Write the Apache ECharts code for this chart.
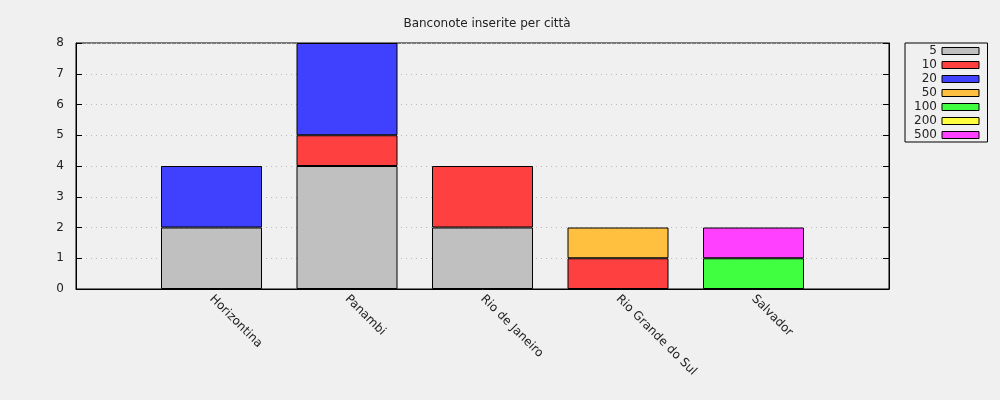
<!DOCTYPE html>
<html>
<head>
<meta charset="utf-8">
<script src="https://cdn.jsdelivr.net/npm/echarts@6/dist/echarts.min.js"></script>
<style>
  html, body { margin: 0; padding: 0; background: #f0f0f0; }
  #chart { width: 1000px; height: 400px; }
</style>
</head>
<body>
<div id="chart"></div>
<script>
// città (slot vuoti ai bordi come nel grafico originale)
const cities = ['', 'Horizontina', 'Panambi', 'Rio de Janeiro', 'Rio Grande do Sul', 'Salvador', ''];
const notes = ['5', '10', '20', '50', '100', '200', '500'];
const noteColors = ['#c0c0c0', '#ff4040', '#4040ff', '#ffc040', '#40ff40', '#ffff40', '#ff40ff'];

// conteggi per taglio, una voce per città
const n5   = [null, 2, 4, 2, null, null, null];
const n10  = [null, null, 1, 2, 1, null, null];
const n20  = [null, 2, 3, null, null, null, null];
const n50  = [null, null, null, null, 1, null, null];
const n100 = [null, null, null, null, null, 1, null];
const n200 = [null, null, null, null, null, null, null];
const n500 = [null, null, null, null, null, 1, null];
const counts = [n5, n10, n20, n50, n100, n200, n500];

const yTicks = { min: 0, max: 8, interval: 1 };

const chart = echarts.init(document.getElementById('chart'));
const font = 'DejaVu Sans';

chart.setOption({
  backgroundColor: '#f0f0f0',
  animation: false,
  textStyle: { fontFamily: font },
  title: {
    text: 'Banconote inserite per città',
    left: 482, top: 13, textAlign: 'center',
    textStyle: { fontSize: 12, fontWeight: 'normal', color: '#222', fontFamily: font }
  },
  legend: {
    orient: 'vertical',
    left: 905, top: 43,
    align: 'right',
    padding: [1, 8, 0, 6],
    itemGap: 0,
    itemWidth: 37, itemHeight: 7,
    borderColor: '#000', borderWidth: 1, borderRadius: 0,
    icon: 'rect',
    itemStyle: { borderColor: '#000', borderWidth: 1 },
    textStyle: { fontSize: 12, color: '#222', width: 26, align: 'right', lineHeight: 14, fontFamily: font },
    data: notes
  },
  grid: {
    left: 76, right: 111, top: 43, bottom: 111,
    show: true, borderColor: '#000', borderWidth: 1,
    containLabel: false
  },
  xAxis: {
    type: 'category',
    data: cities,
    boundaryGap: false,
    axisLine: { show: true, lineStyle: { color: '#000' } },
    axisTick: { show: false },
    splitLine: { show: false },
    axisLabel: { rotate: -45, fontSize: 12, color: '#222', margin: 8, interval: 0 }
  },
  yAxis: [{
    type: 'value',
    min: yTicks.min, max: yTicks.max, interval: yTicks.interval,
    axisLine: { show: true, lineStyle: { color: '#000' } },
    axisTick: { show: true, inside: true, length: 6, lineStyle: { color: '#000' } },
    axisLabel: { fontSize: 12, color: '#222', margin: 12 },
    splitLine: { show: true, lineStyle: { color: '#bbb', type: [1, 4] } }
  }, {
    type: 'value',
    position: 'right',
    min: yTicks.min, max: yTicks.max, interval: yTicks.interval,
    axisLine: { show: true, lineStyle: { color: '#000' } },
    axisTick: { show: true, inside: true, length: 6, lineStyle: { color: '#000' } },
    axisLabel: { show: false },
    splitLine: { show: false }
  }],
  series: notes.map((n, i) => ({
    name: n,
    type: 'bar',
    stack: 'tot',
    barWidth: 101,
    data: counts[i],
    itemStyle: { color: noteColors[i], borderColor: '#000', borderWidth: 1 }
  }))
});
</script>
</body>
</html>
